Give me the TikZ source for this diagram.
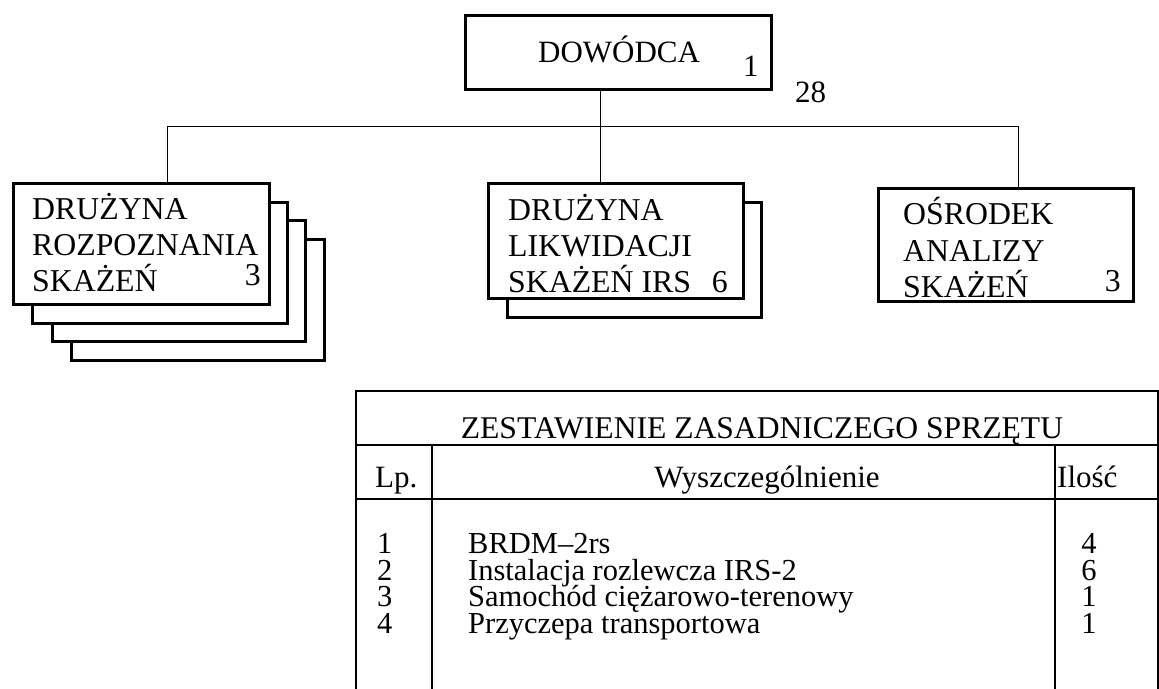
\documentclass[tikz,border=0pt]{standalone}
\usepackage{fontspec}
\setmainfont{Liberation Serif}
\newfontfamily\tnr{Liberation Serif}
\begin{document}
\begin{tikzpicture}[x=1pt,y=-1pt,
  unitbox/.style={draw, line width=2.6pt, fill=white, inner sep=0pt, anchor=north west},
  conn/.style={line width=1pt},
  tabline/.style={line width=1.5pt},
  big/.style={inner sep=0pt, font=\tnr\fontsize{31}{36}\selectfont},
  boxtxt/.style={inner sep=0pt, font=\tnr\fontsize{31.8}{36}\selectfont},
  ttl/.style={inner sep=0pt, font=\tnr\fontsize{31.6}{36}\selectfont},
  row/.style={inner sep=0pt, font=\tnr\fontsize{30.5}{32}\selectfont}]
\useasboundingbox (0,0) rectangle (1159,688);
\clip (0,0) rectangle (1159,688);
\fill[white] (0,0) rectangle (1159,688);

% commander
\node[unitbox, minimum width=306pt, minimum height=74pt] (dow) at (464,14) {};
\node[big, anchor=base west] (dowt) at (538,62) {DOWÓDCA};
\node[big, anchor=base west] (down) at (743,76) {1};
\node[big, anchor=base west] (total) at (795,102) {28};

% reconnaissance teams (stack of 4)
\node[unitbox, minimum width=253pt, minimum height=121pt] (rz4) at (70,238) {};
\node[unitbox, minimum width=253pt, minimum height=121pt] (rz3) at (51,219) {};
\node[unitbox, minimum width=255pt, minimum height=121pt] (rz2) at (31,201) {};
\node[unitbox, minimum width=256pt, minimum height=121pt] (rz) at (12,182) {};
\node[boxtxt, anchor=base west] (rzt1) at (32,219) {DRUŻYNA};
\node[boxtxt, anchor=base west] (rzt2) at (32,255) {ROZPOZNANIA};
\node[boxtxt, anchor=base west] (rzt3) at (32,291) {SKAŻEŃ};
\node[boxtxt, anchor=base east] (rzn) at (261,285) {3};

% decontamination teams (stack of 2)
\node[unitbox, minimum width=254pt, minimum height=115pt] (lk2) at (506,201) {};
\node[unitbox, minimum width=255pt, minimum height=115pt] (lk) at (487,182) {};
\node[boxtxt, anchor=base west] (lkt1) at (508,220) {DRUŻYNA};
\node[boxtxt, anchor=base west] (lkt2) at (508,256) {LIKWIDACJI};
\node[boxtxt, anchor=base west] (lkt3) at (508,292) {SKAŻEŃ IRS};
\node[boxtxt, anchor=base east] (lkn) at (728,292) {6};

% analysis centre
\node[unitbox, minimum width=255pt, minimum height=113pt] (an) at (877,187) {};
\node[boxtxt, anchor=base west] (ant1) at (903,224) {OŚRODEK};
\node[boxtxt, anchor=base west] (ant2) at (903,261) {ANALIZY};
\node[boxtxt, anchor=base west] (ant3) at (903,297) {SKAŻEŃ};
\node[boxtxt, anchor=base east] (ann) at (1121,291) {3};

% connectors
\coordinate (jL) at (167,126);
\coordinate (jM) at (600,126);
\coordinate (jR) at (1018,126);
\draw[conn] (jM |- dow.south) -- (jM);
\draw[conn] (jL) -- (jR);
\draw[conn] (jL) -- (jL |- rz.north);
\draw[conn] (jM) -- (jM |- lk.north);
\draw[conn] (jR) -- (jR |- an.north);

% equipment table
\node[draw, tabline, inner sep=0pt, anchor=north west, minimum width=802pt, minimum height=320pt] (tab) at (355,390) {};
\coordinate (h1) at (355,445);
\coordinate (h2) at (355,499);
\coordinate (c1) at (432,445);
\coordinate (c2) at (1055,445);
\draw[tabline] (h1) -- (h1 -| tab.east);
\draw[tabline] (h2) -- (h2 -| tab.east);
\draw[tabline] (c1) -- (c1 |- tab.south);
\draw[tabline] (c2) -- (c2 |- tab.south);

\node[ttl, anchor=base] (title) at (762,438) {ZESTAWIENIE ZASADNICZEGO SPRZĘTU};
\node[big, anchor=base west] (hlp) at (375,487) {Lp.};
\node[big, anchor=base] (hwy) at (767,487) {Wyszczególnienie};
\node[big, anchor=base west] (hil) at (1057,487) {Ilość};

\node[row, anchor=base west] (n1) at (377,553) {1};
\node[row, anchor=base west] (n2) at (377,580) {2};
\node[row, anchor=base west] (n3) at (377,606) {3};
\node[row, anchor=base west] (n4) at (377,633) {4};
\node[row, anchor=base west] (d1) at (468,553) {BRDM–2rs};
\node[row, anchor=base west] (d2) at (468,580) {Instalacja rozlewcza IRS-2};
\node[row, anchor=base west] (d3) at (468,606) {Samochód ciężarowo-terenowy};
\node[row, anchor=base west] (d4) at (468,633) {Przyczepa transportowa};
\node[row, anchor=base] (q1) at (1089,553) {4};
\node[row, anchor=base] (q2) at (1089,580) {6};
\node[row, anchor=base] (q3) at (1089,606) {1};
\node[row, anchor=base] (q4) at (1089,633) {1};
\end{tikzpicture}
\end{document}
